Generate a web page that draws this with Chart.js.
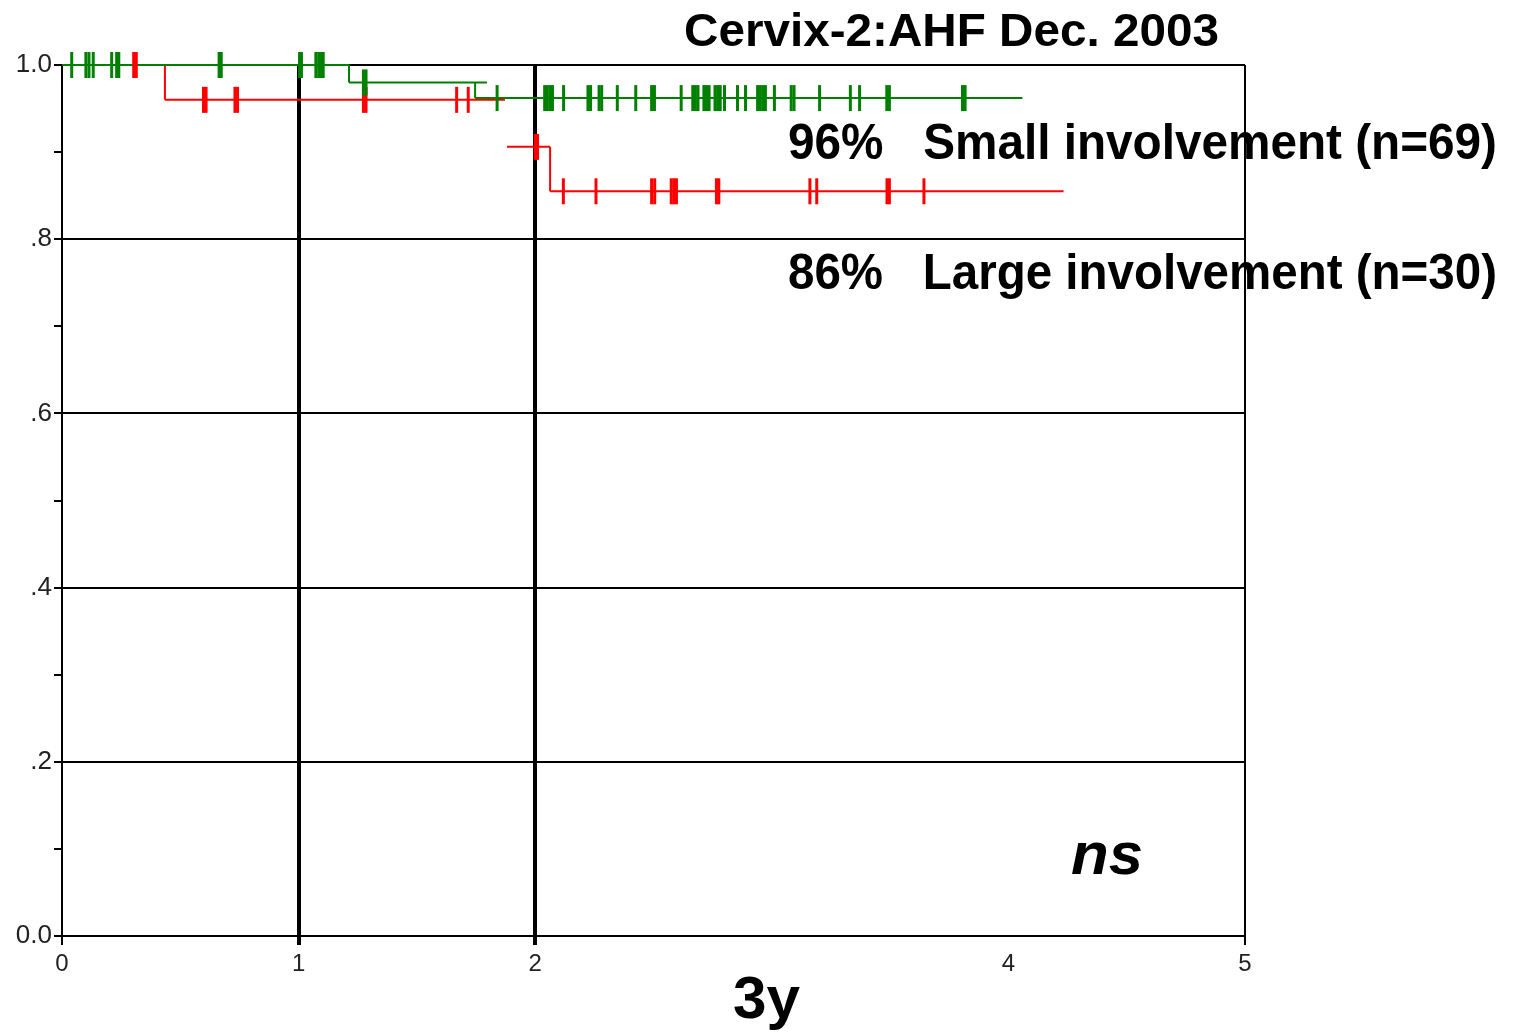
<!DOCTYPE html>
<html>
<head>
<meta charset="utf-8">
<script src="https://cdn.jsdelivr.net/npm/chart.js@4"></script>
<style>
  html, body { margin: 0; padding: 0; background: #ffffff; }
  #wrap { width: 1518px; height: 1032px; position: relative; }
  canvas { display: block; }
</style>
</head>
<body>
<div id="wrap"><canvas id="c" width="1518" height="1032"></canvas></div>
<script>
// ---------- Data ----------
// Small involvement (green) Kaplan-Meier step levels
const greenLevels = [1.0, 0.980, 0.962];
const greenStarts = [0, 1.213, 1.746];
const greenEnds   = [1.213, 1.796, 4.059];
const greenDrops  = [1.213, 1.746];
// censored observations (time) per level
const greenCensor0 = [0.041, 0.101, 0.114, 0.132, 0.210, 0.231, 0.240, 0.664, 0.673, 1.004, 1.012, 1.073, 1.085, 1.096, 1.104];
const greenCensor1 = [1.274, 1.285];
const greenCensor2 = [1.839, 2.040, 2.051, 2.062, 2.073, 2.120, 2.223, 2.234, 2.270, 2.281, 2.347, 2.425, 2.492, 2.504,
                      2.617, 2.666, 2.677, 2.688, 2.713, 2.724, 2.735, 2.760, 2.771, 2.782, 2.800, 2.855, 2.889,
                      2.940, 2.951, 2.962, 2.973, 3.011, 3.082, 3.094, 3.202, 3.332, 3.371, 3.486, 3.497, 3.806, 3.817];

// Large involvement (red)
const redLevels = [1.0, 0.960, 0.906, 0.855];
const redStarts = [0, 0.435, 1.881, 2.063];
const redEnds   = [0.435, 1.872, 2.063, 4.233];
const redDrops  = [0.435, null, 2.063];
const redCensor0 = [0.303, 0.314];
const redCensor1 = [0.598, 0.609, 0.731, 0.742, 1.274, 1.285, 1.668, 1.717];
const redCensor2 = [2.000, 2.010];
const redCensor3 = [2.119, 2.257, 2.492, 2.505, 2.575, 2.586, 2.597, 2.766, 2.776, 3.161, 3.190, 3.487, 3.497, 3.643];

// Axis ticks
const yTickValues = [0, 0.1, 0.2, 0.3, 0.4, 0.5, 0.6, 0.7, 0.8, 0.9, 1.0];
const yTickLabels = ["0.0", "", ".2", "", ".4", "", ".6", "", ".8", "", "1.0"];
const xTickValues = [0, 1, 2, 3, 4, 5];
const xTickLabels = ["0", "1", "2", "", "4", "5"];

// Texts
const titleText = "Cervix-2:AHF Dec. 2003";
const smallText = "96%   Small involvement (n=69)";
const largeText = "86%   Large involvement (n=30)";
const nsText = "ns";
const xLabelText = "3y";

// ---------- Builders ----------
function buildPath(levels, starts, ends, drops) {
  const pts = [];
  levels.forEach((v, i) => {
    pts.push({x: starts[i], y: v}, {x: ends[i], y: v}, {x: ends[i], y: null});
  });
  drops.forEach((d, i) => {
    if (d !== null) {
      pts.push({x: d, y: levels[i]}, {x: d, y: levels[i + 1]}, {x: d, y: null});
    }
  });
  return pts;
}
function buildCensor(levels, lists) {
  const pts = [];
  lists.forEach((arr, i) => arr.forEach(t => pts.push({x: t, y: levels[i]})));
  return pts;
}

const GREEN = '#008000';
const RED = '#ff0000';

function fitText(ctx, text, font, left, right, baseline) {
  ctx.save();
  ctx.font = font;
  ctx.fillStyle = '#000';
  ctx.textBaseline = 'alphabetic';
  ctx.textAlign = 'left';
  const w = ctx.measureText(text).width;
  ctx.translate(left, baseline);
  ctx.scale((right - left) / w, 1);
  ctx.fillText(text, 0, 0);
  ctx.restore();
}

const textPlugin = {
  id: 'texts',
  beforeDraw(chart) {
    const ctx = chart.ctx;
    fitText(ctx, titleText, 'bold 47px "Liberation Sans", Arial, sans-serif', 684, 1219, 46);
    fitText(ctx, smallText, 'bold 50px "Liberation Sans", Arial, sans-serif', 788, 1497, 159);
    fitText(ctx, largeText, 'bold 50px "Liberation Sans", Arial, sans-serif', 788, 1497, 289);
    fitText(ctx, nsText, 'italic bold 60px "Liberation Sans", Arial, sans-serif', 1071, 1143, 874);
    fitText(ctx, xLabelText, 'bold 60px "Liberation Sans", Arial, sans-serif', 733, 800, 1018);
  }
};

const tickFont = {family: '"Liberation Sans", Arial, sans-serif', size: 26, weight: 'normal'};

new Chart(document.getElementById('c'), {
  type: 'line',
  data: {
    datasets: [
      { type: 'scatter', label: 'green censored', data: buildCensor(greenLevels, [greenCensor0, greenCensor1, greenCensor2]),
        showLine: false, pointStyle: 'line', rotation: 90, radius: 13, pointBorderWidth: 3, clip: false,
        borderColor: GREEN, backgroundColor: GREEN, order: 1 },
      { type: 'scatter', label: 'red censored', data: buildCensor(redLevels, [redCensor0, redCensor1, redCensor2, redCensor3]),
        showLine: false, pointStyle: 'line', rotation: 90, radius: 13, pointBorderWidth: 3, clip: false,
        borderColor: RED, backgroundColor: RED, order: 2 },
      { label: 'Small involvement', data: buildPath(greenLevels, greenStarts, greenEnds, greenDrops),
        borderColor: GREEN, borderWidth: 2, pointRadius: 0, spanGaps: false, tension: 0, clip: false, order: 3 },
      { label: 'Large involvement', data: buildPath(redLevels, redStarts, redEnds, redDrops),
        borderColor: RED, borderWidth: 2, pointRadius: 0, spanGaps: false, tension: 0, clip: false, order: 4 }
    ]
  },
  options: {
    responsive: false,
    animation: false,
    devicePixelRatio: 1,
    layout: { padding: { top: 65, right: 273, left: 0, bottom: 0 } },
    plugins: { legend: { display: false }, tooltip: { enabled: false } },
    scales: {
      x: {
        type: 'linear', min: 0, max: 5,
        afterBuildTicks: s => { s.ticks = xTickValues.map(v => ({value: v})); },
        afterFit: s => { s.height = 96; },
        ticks: { font: {family: '"Liberation Sans", Arial, sans-serif', size: 24}, color: '#222', padding: 5, maxRotation: 0, autoSkip: false,
                 callback: (v, i) => xTickLabels[i] },
        grid: {
          color: c => { const v = c.tick ? c.tick.value : 0; return (v === 1 || v === 2 || v === 5 || v === 0) ? '#000' : 'rgba(0,0,0,0)'; },
          lineWidth: c => { const v = c.tick ? c.tick.value : 0; return (v === 1 || v === 2) ? 4 : 2; },
          tickColor: c => { const v = c.tick ? c.tick.value : 0; return (v === 3 || v === 4) ? 'rgba(0,0,0,0)' : '#000'; },
          tickWidth: c => { const v = c.tick ? c.tick.value : 0; return (v === 1 || v === 2) ? 4 : 2; },
          tickLength: 9, drawOnChartArea: true
        },
        border: { display: true, color: '#000', width: 2 }
      },
      y: {
        type: 'linear', min: 0, max: 1,
        afterBuildTicks: s => { s.ticks = yTickValues.map(v => ({value: v})); },
        afterFit: s => { s.width = 62; },
        ticks: { font: tickFont, color: '#222', padding: 2, autoSkip: false,
                 callback: (v, i) => yTickLabels[i] },
        grid: {
          color: c => { const i = c.index; return (i % 2 === 0) ? '#000' : 'rgba(0,0,0,0)'; },
          lineWidth: 2,
          tickColor: '#000', tickWidth: 2, tickLength: 8
        },
        border: { display: true, color: '#000', width: 2 }
      }
    }
  },
  plugins: [textPlugin]
});
</script>
</body>
</html>
